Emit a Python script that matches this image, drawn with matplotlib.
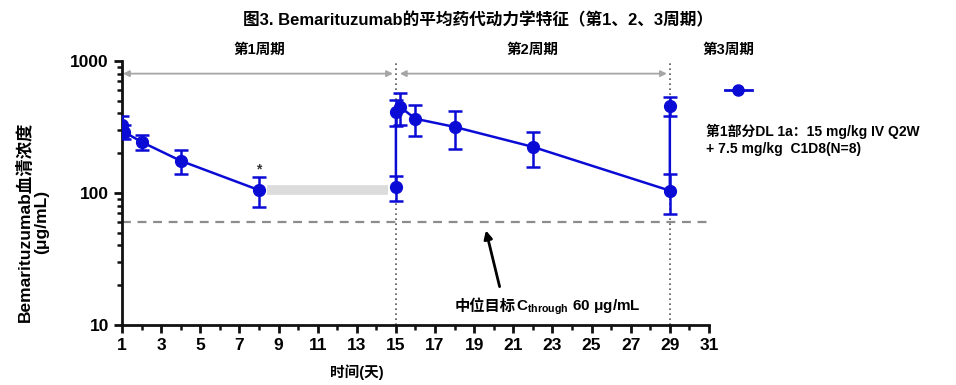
import matplotlib
matplotlib.use("Agg")
import matplotlib.pyplot as plt
import matplotlib.ticker as mticker

plt.rcParams['font.family'] = ['Liberation Sans', 'Noto Sans CJK SC', 'DejaVu Sans']
plt.rcParams['font.weight'] = 'bold'
plt.rcParams['mathtext.fontset'] = 'custom'
plt.rcParams['mathtext.bf'] = 'Liberation Sans:bold'
plt.rcParams['mathtext.rm'] = 'Liberation Sans:bold'

# ── datos: ciclo 1 (día 1 → día 8) ──
dias_c1 = [1, 1.1, 2, 4, 8]
conc_c1 = [325, 290, 243, 175, 105]
sd_c1 = [60, 35, 30, 35, 27]

# ── datos: ciclos 2-3 (día 15 → día 29) ──
dias_c2 = [15, 15, 15.2, 16, 18, 22, 29, 29]
conc_c2 = [111, 411, 449, 364, 316, 223, 104, 456]
sd_c2 = [24, 90, 120, 95, 100, 65, 35, 75]

objetivo = 60
inicio_ciclos = [1, 15, 29]
etiquetas_ciclo = ["第1周期", "第2周期", "第3周期"]
pos_etiquetas = [8, 22, 32]

AZUL = "#0b0bd6"
GRIS = "#a6a6a6"

fig = plt.figure(figsize=(9.56, 3.85), dpi=100)
ax = fig.add_axes([0.1276, 0.156, 0.614, 0.686])

# banda gris entre día 8 y día 15
ax.plot([8.4, 14.6], [conc_c1[-1], conc_c1[-1]], color="#dcdcdc", lw=7,
        solid_capstyle="butt", zorder=1)

for d, c, s in [(dias_c1, conc_c1, sd_c1), (dias_c2, conc_c2, sd_c2)]:
    ax.errorbar(d, c, yerr=s, color=AZUL, marker="o", markersize=8.5,
                lw=1.8, elinewidth=1.8, capsize=5, capthick=1.8, zorder=4)

ax.text(8, 150, "*", ha="center", va="center", fontsize=10, color="#333333")

# línea objetivo
ax.axhline(objetivo, xmin=0, xmax=1, color="#8c8c8c", lw=1.6,
           linestyle=(0, (4, 3)), zorder=2)

# líneas verticales de inicio de ciclo
for x in inicio_ciclos[1:]:
    ax.axvline(x, color="#555555", lw=1.2, linestyle=(0, (1, 2)), zorder=2)

# flechas de duración de cada ciclo
ax.annotate("", xy=(1.05, 800), xytext=(14.85, 800),
            arrowprops=dict(arrowstyle="<|-|>", color=GRIS, lw=1.3,
                            mutation_scale=9, shrinkA=0, shrinkB=0))
ax.annotate("", xy=(15.2, 800), xytext=(28.85, 800),
            arrowprops=dict(arrowstyle="<|-|>", color=GRIS, lw=1.3,
                            mutation_scale=9, shrinkA=0, shrinkB=0))

for x, t in zip(pos_etiquetas, etiquetas_ciclo):
    ax.text(x, 1070, t, ha="center", va="bottom", fontsize=10.5,
            fontweight="bold", clip_on=False)

# anotación objetivo
ax.annotate("", xy=(19.6, 52), xytext=(20.3, 19.5),
            arrowprops=dict(arrowstyle="-|>", color="black", lw=2,
                            mutation_scale=12, shrinkA=0, shrinkB=0))
t1 = ax.text(18.0, 12.7, "中位目标", ha="left", va="baseline", fontsize=11,
             fontweight="bold", family=["Noto Sans CJK SC"])
ax.annotate(r"C$_{\mathbf{through}}$ 60 μg/mL", xy=(1, 0), xycoords=t1,
            xytext=(0, 2.5), textcoords="offset points", ha="left",
            va="baseline", fontsize=11, fontweight="bold",
            family=["Liberation Sans"])

# ejes
ax.set_yscale("log")
ax.set_ylim(10, 1000)
ax.set_xlim(1, 31)
ax.yaxis.set_major_locator(mticker.FixedLocator([10, 100, 1000]))
ax.yaxis.set_major_formatter(mticker.FixedFormatter(["10", "100", "1000"]))
ax.yaxis.set_minor_locator(mticker.LogLocator(base=10, subs=range(2, 10)))
ax.yaxis.set_minor_formatter(mticker.NullFormatter())
ax.xaxis.set_major_locator(mticker.FixedLocator(range(1, 32, 2)))
ax.xaxis.set_minor_locator(mticker.MultipleLocator(1))

for lado in ["top", "right"]:
    ax.spines[lado].set_visible(False)
for lado in ["left", "bottom"]:
    ax.spines[lado].set_linewidth(2)
    ax.spines[lado].set_color("#111111")

ax.tick_params(axis="both", which="major", length=6, width=2, labelsize=12.5,
               color="#111111")
ax.tick_params(axis="both", which="minor", length=3.5, width=1.8,
               color="#111111")
for lbl in ax.get_xticklabels() + ax.get_yticklabels():
    lbl.set_fontweight("bold")

ax.set_xlabel("时间(天)", fontsize=10.5, fontweight="bold")
ax.xaxis.set_label_coords(0.40, -0.15)
ax.set_ylabel("Bemarituzumab血清浓度\n(μg/mL)", fontsize=12.5,
              fontweight="bold", linespacing=1.1)
ax.yaxis.set_label_coords(-0.124, 0.39)

# leyenda manual
fig.add_artist(plt.Line2D([0.758, 0.772, 0.787], [0.767, 0.767, 0.767],
                          color=AZUL, lw=2, marker="o", markersize=8,
                          markevery=[1], transform=fig.transFigure))
fig.text(0.738, 0.636, "第1部分DL 1a：15 mg/kg IV Q2W\n+ 7.5 mg/kg  C1D8(N=8)",
         fontsize=10, fontweight="bold", va="center", ha="left",
         linespacing=1.3)

fig.suptitle("图3. Bemarituzumab的平均药代动力学特征（第1、2、3周期）",
             x=0.5, y=0.97, fontsize=12, fontweight="bold")

fig.savefig("out.png", dpi=100)
